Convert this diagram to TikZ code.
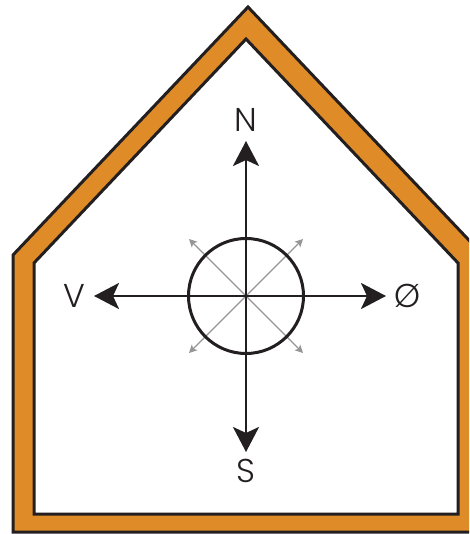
\documentclass[tikz,border=0pt]{standalone}
\usepackage{fontspec}
\setmainfont{Poppins Light}
\usetikzlibrary{arrows.meta}
\definecolor{houseorange}{RGB}{223,140,40}
\definecolor{linegray}{RGB}{150,150,150}
\definecolor{ink}{RGB}{35,31,32}
\tikzset{
  wall/.style={draw=ink, line width=3pt, line join=miter},
  mainarrow/.style={draw=ink, line width=2.6pt, -{Stealth[length=25pt,width=26pt,inset=6pt]}},
  diagarrow/.style={draw=linegray, line width=1.3pt, -{Stealth[length=8pt,width=8pt,inset=2pt]}},
  dirlabel/.style={inner sep=0pt, font=\fontsize{33}{33}\selectfont, text=ink}
}
\begin{document}
\begin{tikzpicture}[x=1pt,y=-1pt]
\useasboundingbox (0,0) rectangle (469,534);
\begin{scope}
\clip (0,0) rectangle (469,534);
% outer house
\path[wall, fill=houseorange] (13,532) -- (13,255) -- (248,7) -- (483,255) -- (483,532) -- cycle;
% inner house
\path[wall, fill=white] (34,514) -- (34,263) -- (246,39) -- (458,263) -- (458,514) -- cycle;
\end{scope}
% compass
\coordinate (c) at (246,296);
\coordinate (tn) at (246,141);
\coordinate (ts) at (246,452);
\coordinate (tw) at (94,296);
\coordinate (te) at (386,296);
\coordinate (d1) at (189,239);
\coordinate (d2) at (303,239);
\coordinate (d3) at (189,353);
\coordinate (d4) at (303,353);
\draw[diagarrow] (c) -- (d1);
\draw[diagarrow] (c) -- (d2);
\draw[diagarrow] (c) -- (d3);
\draw[diagarrow] (c) -- (d4);
\node[draw=ink, line width=3pt, circle, minimum size=115pt, inner sep=0pt] (ring) at (c) {};
\draw[mainarrow] (c) -- (tn);
\draw[mainarrow] (c) -- (ts);
\draw[mainarrow] (c) -- (tw);
\draw[mainarrow] (c) -- (te);
\node[dirlabel] (N) at (246,120) {N};
\node[dirlabel] (S) at (246,471) {S};
\node[dirlabel] (V) at (74,296) {V};
\node[dirlabel] (O) at (407,296) {Ø};
\end{tikzpicture}
\end{document}
